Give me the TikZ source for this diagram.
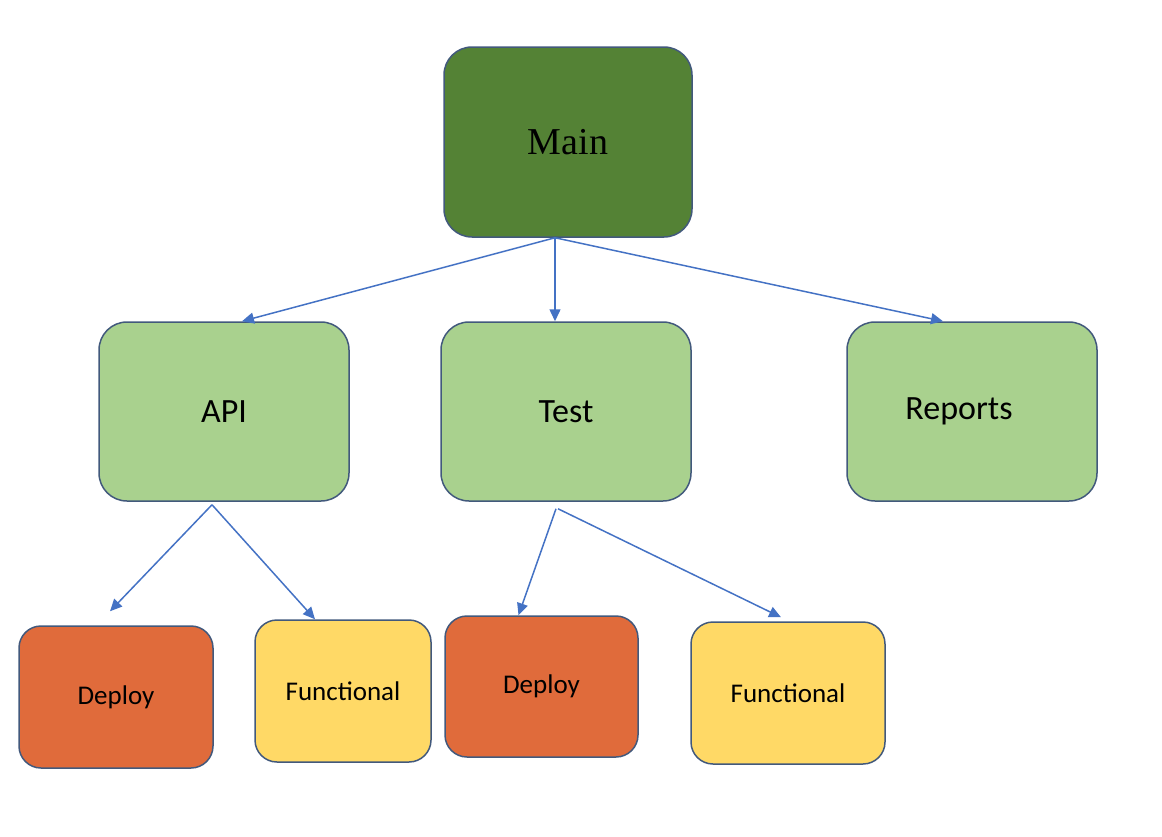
\documentclass[tikz,border=0pt]{standalone}
\usepackage{fontspec}
\setmainfont{Carlito}
\newfontfamily\serifmain{Liberation Serif}
\usetikzlibrary{arrows.meta}
\definecolor{bordc}{HTML}{42597C}
\definecolor{arrc}{HTML}{4472C4}
\definecolor{darkg}{HTML}{548235}
\definecolor{lightg}{HTML}{A9D18E}
\definecolor{orng}{HTML}{E06B3B}
\definecolor{yell}{HTML}{FFD966}
\tikzset{
  box/.style={draw=bordc, line width=1.5pt, rounded corners=28pt, inner sep=0pt},
  topbox/.style={box, fill=darkg, minimum width=248pt, minimum height=190pt, font=\serifmain\fontsize{38}{40}\selectfont},
  midbox/.style={box, fill=lightg, minimum width=250pt, minimum height=179pt, font=\fontsize{34}{36}\selectfont},
  lowbox/.style={box, rounded corners=22pt, font=\fontsize{27}{29}\selectfont},
  conn/.style={draw=arrc, line width=1.5pt, -{Triangle[length=12pt,width=11pt]}}
}
\begin{document}
\begin{tikzpicture}[x=1pt,y=-1pt]
\useasboundingbox (0,0) rectangle (1162,836);
\node[topbox] (Main) at (568,142) {Main};
\node[midbox] (API) at (224,411.5) {API};
\node[midbox] (Test) at (566,411.5) {Test};
\node[midbox] (Reports) at (972,411.5) {Reports\hspace*{26pt}};
\node[lowbox, fill=orng, minimum width=194pt, minimum height=142pt] (Dep1) at (116,697) {Deploy};
\node[lowbox, fill=yell, minimum width=176pt, minimum height=142pt] (Fun1) at (343,691) {Functional};
\node[lowbox, fill=orng, minimum width=193pt, minimum height=141pt] (Dep2) at (541.5,686.5) {Deploy};
\node[lowbox, fill=yell, minimum width=194pt, minimum height=142pt] (Fun2) at (788,693) {Functional};
\draw[conn] ([xshift=-13pt]Main.south) -- ([xshift=18pt]API.north);
\draw[conn] ([xshift=-13pt]Main.south) -- ([xshift=-11pt]Test.north);
\draw[conn] ([xshift=-13pt]Main.south) -- ([xshift=-29pt]Reports.north);
\draw[conn] ([xshift=-12pt,yshift=-3pt]API.south) -- ([xshift=-6pt,yshift=14pt]Dep1.north);
\draw[conn] ([xshift=-12pt,yshift=-3pt]API.south) -- ([xshift=-28pt]Fun1.north);
\draw[conn] ([xshift=-10pt,yshift=-7pt]Test.south) -- ([xshift=-23pt]Dep2.north);
\draw[conn] ([xshift=-8pt,yshift=-7pt]Test.south) -- ([xshift=-7pt,yshift=4pt]Fun2.north);
\end{tikzpicture}
\end{document}
